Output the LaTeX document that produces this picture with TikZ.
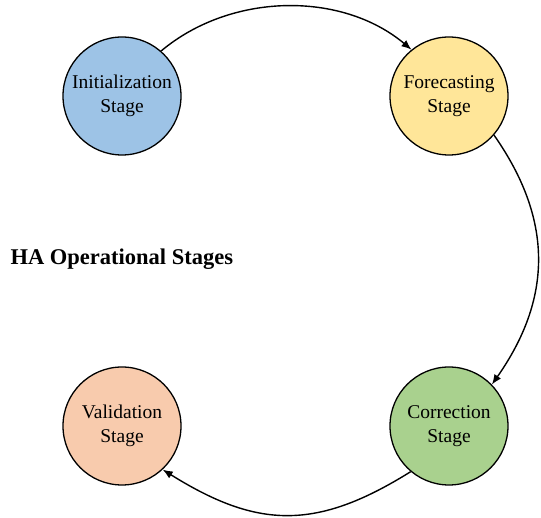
\documentclass[tikz,border=0pt]{standalone}
\usepackage{fontspec}
\setmainfont{Liberation Serif}
\usetikzlibrary{arrows.meta}
\definecolor{initblue}{HTML}{9DC3E6}
\definecolor{foreyellow}{HTML}{FFE699}
\definecolor{corrgreen}{HTML}{A9D18E}
\definecolor{validpeach}{HTML}{F8CBAD}
\tikzset{
  stage/.style={circle, draw=black, line width=1.3pt, minimum size=118pt,
    inner sep=0pt, align=center, font=\fontsize{19.5}{24}\selectfont},
  flow/.style={line width=1.4pt, -{Latex[length=10pt,width=8pt]}},
}
\begin{document}
\begin{tikzpicture}[x=1pt,y=1pt]
  \useasboundingbox (0,0) rectangle (541,518);
  \node[stage, fill=initblue]   (init) at (122,422) {Initialization\\Stage};
  \node[stage, fill=foreyellow] (fore) at (449,422) {Forecasting\\Stage};
  \node[stage, fill=corrgreen]  (corr) at (449,92)  {Correction\\Stage};
  \node[stage, fill=validpeach] (vali) at (122,92)  {Validation\\Stage};
  \node[anchor=west, font=\fontsize{22.5}{27}\selectfont\bfseries] (title) at (7,259) {HA Operational Stages};
  \draw[flow] (init.49.5) to[out=40, in=140, looseness=0.93] (fore.129);
  \draw[flow] (fore.-41) to[out=-55, in=55, looseness=1.07] (corr.44);
  \draw[flow] (corr.-130) to[out=-148, in=-32, looseness=1.15] (vali.-47);
\end{tikzpicture}
\end{document}
